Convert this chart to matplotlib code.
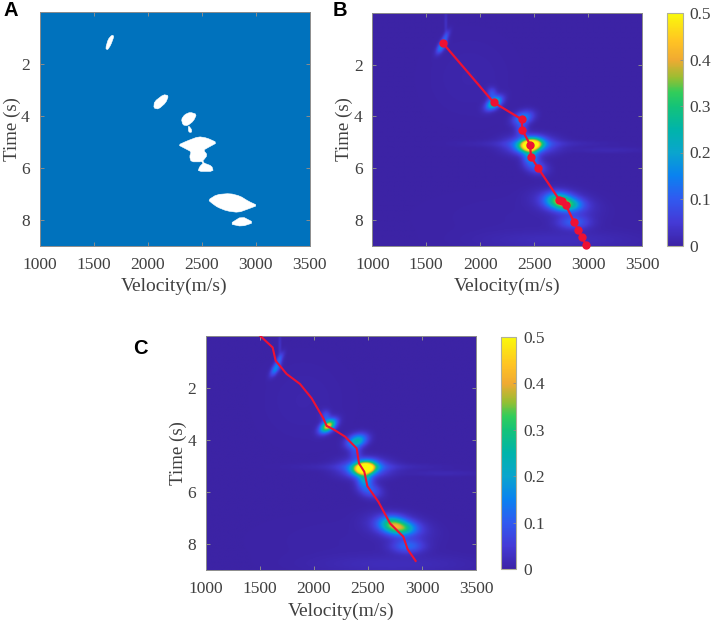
import numpy as np
import matplotlib
matplotlib.use("Agg")
import matplotlib.pyplot as plt
from matplotlib.colors import LinearSegmentedColormap

W, H = 713, 622
vel_ticks = [1000, 1500, 2000, 2500, 3000, 3500]
time_ticks = [2, 4, 6, 8]
cbar_ticks = [0, 0.1, 0.2, 0.3, 0.4, 0.5]
cbar_labels = ["0", "0.1", "0.2", "0.3", "0.4", "0.5"]

# Panel A: white regions (velocity, time outline)
regions_a = [
    [(1670, .89), (1690, .93), (1660, 1.27), (1630, 1.46), (1612, 1.40), (1636, 1.05)],
    [(2148, 3.18), (2195, 3.22), (2170, 3.49), (2102, 3.74), (2058, 3.70), (2064, 3.45)],
    [(2395, 3.86), (2455, 3.94), (2425, 4.20), (2370, 4.38), (2328, 4.35), (2314, 4.13), (2345, 3.95)],
    [(2378, 4.37), (2408, 4.52), (2408, 4.64), (2380, 4.62)],
    [(2285, 5.12), (2364, 4.97), (2472, 4.80), (2549, 4.85), (2645, 5.03), (2565, 5.21), (2518, 5.32),
     (2555, 5.51), (2506, 5.77), (2405, 5.77), (2390, 5.57), (2405, 5.38), (2345, 5.25)],
    [(2495, 5.72), (2510, 5.72), (2535, 5.88), (2525, 5.90)],
    [(2518, 5.81), (2595, 5.93), (2610, 6.14), (2468, 6.14), (2482, 5.96)],
    [(2562, 7.24), (2642, 7.03), (2765, 6.99), (2858, 7.09), (2935, 7.29), (3018, 7.45), (2935, 7.58),
     (2842, 7.72), (2734, 7.66), (2650, 7.52), (2605, 7.39)],
    [(2873, 7.87), (2985, 8.11), (2873, 8.26), (2762, 8.16)],
]

# Energy peaks: velocity, time, velocity width, time width, tilt
peak_vel = [1640, 1678, 1682, 2130, 2110, 2400, 2385, 2470, 2470, 2500, 3200, 2470, 2520, 2720, 2810, 2780, 2870, 2400, 2750, 1900]
peak_time = [1.30, 0.92, 0.35, 3.48, 3.10, 4.05, 4.50, 5.10, 5.10, 5.05, 5.30, 5.55, 5.95, 7.22, 7.42, 7.35, 8.10, 7.9, 8.8, 2.5]
peak_svel = [24, 20, 10, 42, 30, 60, 38, 68, 150, 420, 240, 46, 70, 78, 85, 150, 100, 700, 500, 300]
peak_stime = [.17, .18, .40, .17, .15, .18, .20, .17, .24, .09, .08, .20, .20, .19, .17, .30, .18, .8, .25, 1.2]
peak_tilt = [-110, -110, 0, -140, 0, -100, 0, -60, 0, 0, 0, 0, 80, 0, 0, 150, 0, 0, 0, 0]
amp_b = [.15, .08, .03, .30, .08, .16, .08, .60, .14, .022, .015, .16, .09, .22, .20, .10, .10, .006, .02, .008]
amp_c = [.15, .09, .03, .44, .08, .24, .07, .62, .14, .022, .015, .17, .10, .20, .21, .11, .11, .006, .02, .008]

# Panel B picked points
pick_vel = [1655, 2125, 2384, 2391, 2462, 2471, 2539, 2734, 2755, 2795, 2873, 2907, 2944, 2981]
pick_time = [1.17, 3.46, 4.11, 4.53, 5.09, 5.56, 6.01, 7.23, 7.27, 7.44, 8.10, 8.39, 8.68, 8.97]

# Panel C velocity curve
curve_vel = [1500, 1617, 1645, 1747, 1870, 1978, 2086, 2117, 2179, 2287, 2395, 2417, 2466, 2494, 2596, 2704, 2827, 2867, 2941]
curve_time = [0, .45, .96, 1.47, 1.85, 2.40, 3.17, 3.46, 3.59, 3.87, 4.32, 4.90, 5.22, 5.77, 6.37, 7.20, 7.71, 8.19, 8.64]

TEXT = "#404040"
EDGE = "#8c8c8c"
RED = "#ee1133"
cmap = LinearSegmentedColormap.from_list("semb", [
    (0.00, (60/255, 35/255, 165/255)),
    (0.10, (68/255, 58/255, 215/255)),
    (0.20, (48/255, 90/255, 240/255)),
    (0.30, (10/255, 130/255, 240/255)),
    (0.40, (10/255, 165/255, 205/255)),
    (0.50, (0/255, 180/255, 170/255)),
    (0.60, (20/255, 195/255, 120/255)),
    (0.66, (50/255, 205/255, 90/255)),
    (0.72, (150/255, 190/255, 50/255)),
    (0.80, (240/255, 170/255, 50/255)),
    (0.88, (255/255, 195/255, 35/255)),
    (1.00, (250/255, 250/255, 10/255)),
])

plt.rcParams["font.family"] = "Liberation Serif"
fig = plt.figure(figsize=(W / 100, H / 100), dpi=100)


def axes_px(x0, y0, x1, y1):
    return fig.add_axes([x0 / W, 1 - y1 / H, (x1 - x0) / W, (y1 - y0) / H])


def style(ax):
    ax.set_xlim(1000, 3500)
    ax.set_ylim(9, 0)
    ax.set_xticks(vel_ticks)
    ax.set_yticks(time_ticks)
    ax.tick_params(direction="in", length=3, width=0.7, color=EDGE, labelcolor=TEXT,
                   labelsize=12.5, top=True, right=True)
    ax.tick_params(axis="x", pad=8)
    ax.tick_params(axis="y", pad=7)
    ax.set_xlabel("Velocity(m/s)", fontsize=14, color=TEXT, labelpad=3.5)
    ax.set_ylabel("Time (s)", fontsize=13.6, color=TEXT)
    ax.yaxis.set_label_coords(-0.07, 0.5)
    for s in ax.spines.values():
        s.set_color(EDGE)
        s.set_linewidth(0.7)


def field(amps):
    v = np.linspace(1000, 3500, 320)
    t = np.linspace(0, 9, 280)
    V, T = np.meshgrid(v, t)
    Z = np.zeros_like(V)
    for v0, t0, sv, st, tilt, a in zip(peak_vel, peak_time, peak_svel, peak_stime, peak_tilt, amps):
        dv = V - v0 - tilt * (T - t0)
        Z += a * np.exp(-0.5 * (dv / sv) ** 2 - 0.5 * ((T - t0) / st) ** 2)
    return Z


def heat(ax, amps):
    return ax.imshow(field(amps), extent=[1000, 3500, 9, 0], aspect="auto", cmap=cmap,
                     vmin=0, vmax=0.5, interpolation="bilinear")


def colorbar(im, box):
    cax = axes_px(*box)
    cb = fig.colorbar(im, cax=cax)
    cb.set_ticks(cbar_ticks)
    cb.set_ticklabels(cbar_labels)
    cax.tick_params(direction="in", length=2, width=0.6, color=EDGE, labelcolor=TEXT,
                    labelsize=12.5, pad=5)
    cb.outline.set_edgecolor("#b0b09a")
    cb.outline.set_linewidth(0.8)


def rounded(reg):
    # corner-cutting so the outlines read as soft shapes
    p = np.array(reg, float)
    q = np.roll(p, -1, axis=0)
    out = np.empty((2 * len(p), 2))
    out[0::2] = .8 * p + .2 * q
    out[1::2] = .2 * p + .8 * q
    return out


# A
ax = axes_px(39.5, 12, 309.5, 245.7)
ax.set_facecolor("#0072bd")
for reg in regions_a:
    r = rounded(reg)
    ax.fill(r[:, 0], r[:, 1], color="white", lw=0.4, ec="white", joinstyle="round")
style(ax)

# B
ax = axes_px(372.3, 13, 642, 245.7)
im = heat(ax, amp_b)
ax.plot(pick_vel, pick_time, "-", color=RED, lw=1.6, marker="o", ms=5, clip_on=False, zorder=3)
style(ax)
colorbar(im, (667.3, 13, 682.7, 245.5))

# C
ax = axes_px(206, 335.7, 476, 570.3)
im = heat(ax, amp_c)
ax.plot(curve_vel, curve_time, "-", color=RED, lw=1.5, zorder=3)
style(ax)
colorbar(im, (501, 336.7, 516, 569.3))

for lab, x, y in [("A", 3, 11), ("B", 333, 11), ("C", 133, 349)]:
    fig.text(x / W, 1 - y / H, lab, fontsize=14.5, fontweight="bold", family="Liberation Sans",
             color="black", va="center", ha="left")

fig.savefig("out.png", dpi=100)
